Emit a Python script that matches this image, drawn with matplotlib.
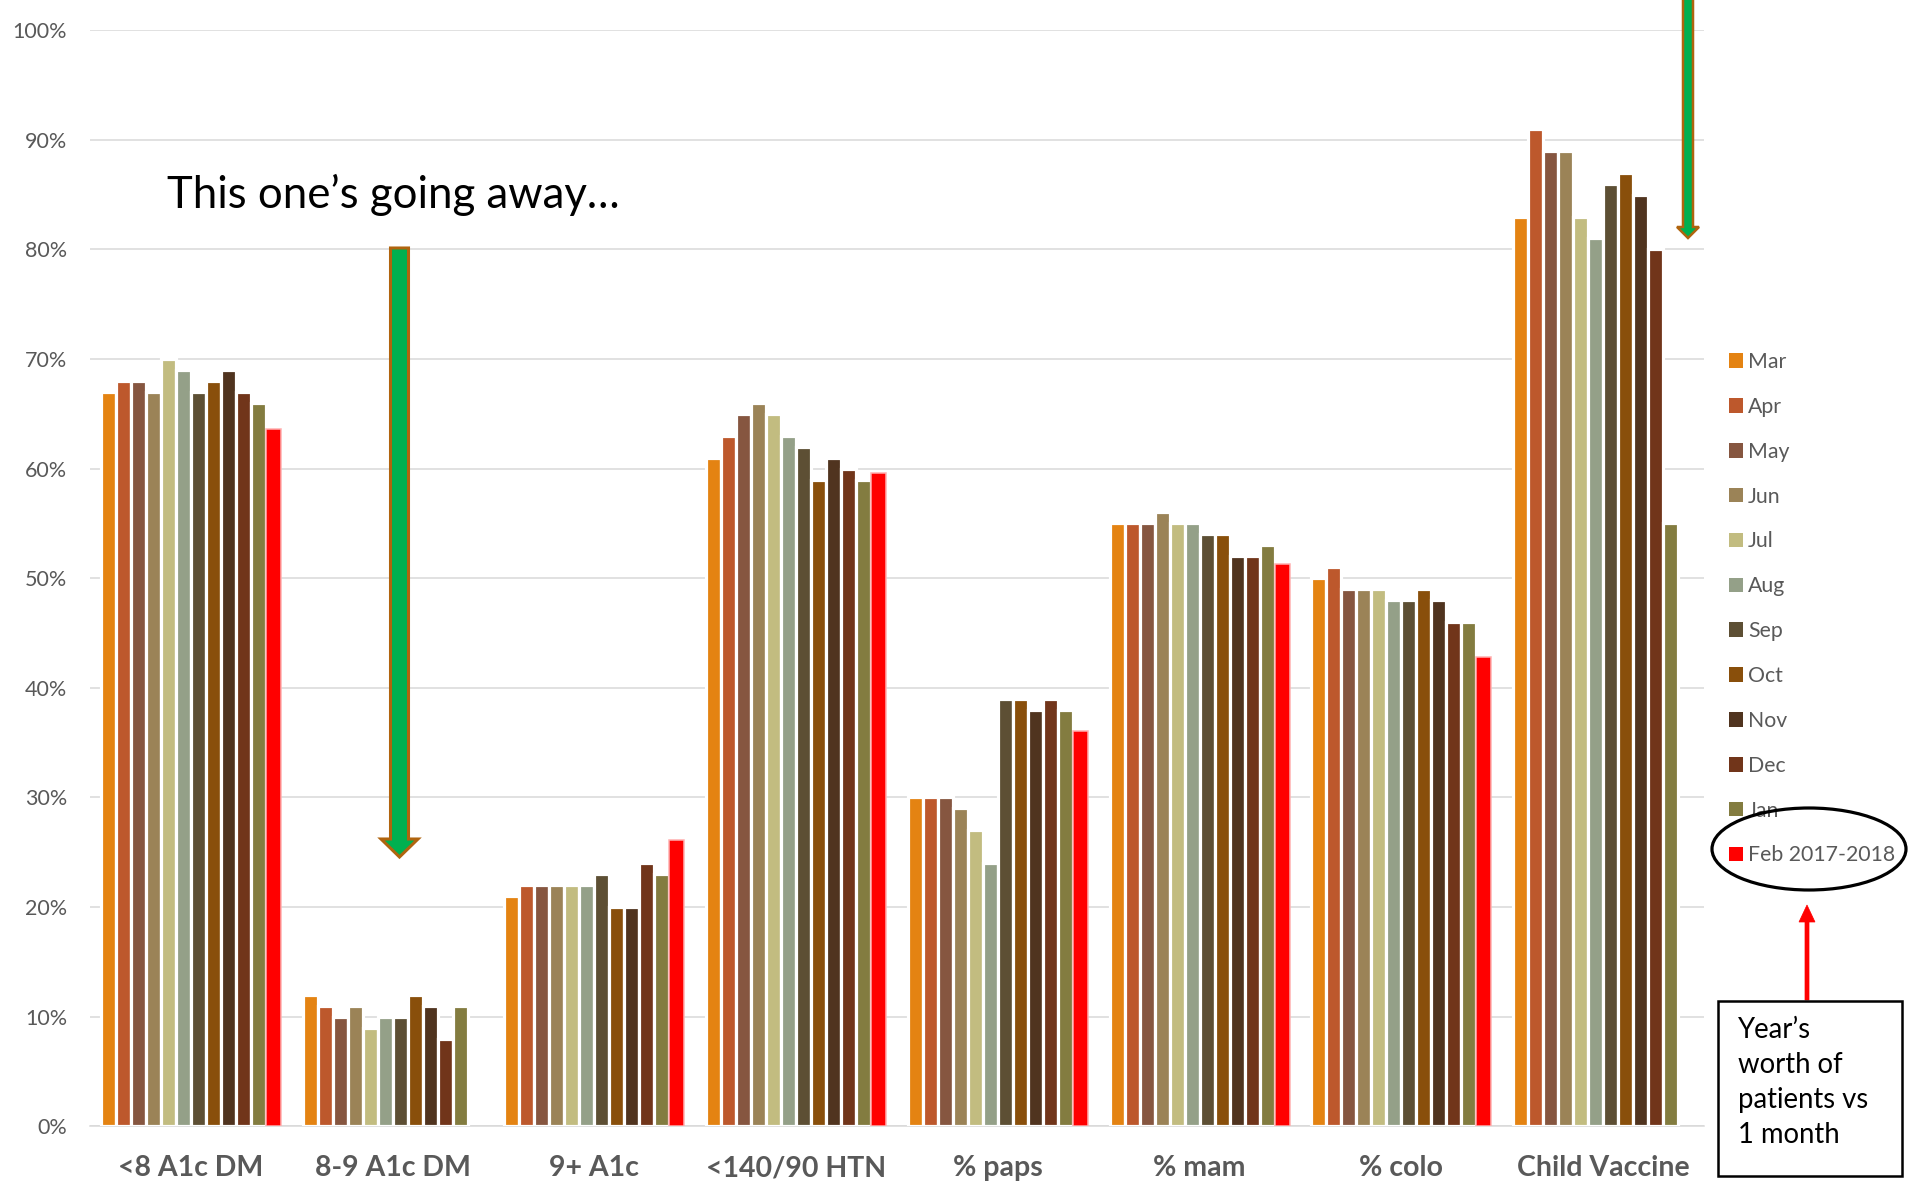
import numpy as np
import matplotlib
matplotlib.use("Agg")
import matplotlib.pyplot as plt
from matplotlib.patches import Polygon, Ellipse, Rectangle, Patch

plt.rcParams['font.family'] = ['Lato', 'DejaVu Sans']

categories = ["<8 A1c DM", "8-9 A1c DM", "9+ A1c", "<140/90 HTN", "% paps", "% mam", "% colo", "Child Vaccine"]
months = ["Mar", "Apr", "May", "Jun", "Jul", "Aug", "Sep", "Oct", "Nov", "Dec", "Jan", "Feb 2017-2018"]

mar = [67, 12, 21, 61, 30, 55, 50, 83]
apr = [68, 11, 22, 63, 30, 55, 51, 91]
may = [68, 10, 22, 65, 30, 55, 49, 89]
jun = [67, 11, 22, 66, 29, 56, 49, 89]
jul = [70, 9, 22, 65, 27, 55, 49, 83]
aug = [69, 10, 22, 63, 24, 55, 48, 81]
sep = [67, 10, 23, 62, 39, 54, 48, 86]
oct_ = [68, 12, 20, 59, 39, 54, 49, 87]
nov = [69, 11, 20, 61, 38, 52, 48, 85]
dec = [67, 8, 24, 60, 39, 52, 46, 80]
jan = [66, 11, 23, 59, 38, 53, 46, 55]
feb = [63.6, np.nan, 26.1, 59.6, 36.1, 51.3, 42.8, np.nan]

series = [mar, apr, may, jun, jul, aug, sep, oct_, nov, dec, jan, feb]
colors = ["#E48312", "#BD582C", "#865640", "#9B8357", "#C2BC80", "#94A088",
          "#5D4F34", "#894F0B", "#50341F", "#71351A", "#837C40", "#FF0000"]

W, H = 1911, 1189
fig = plt.figure(figsize=(W / 100, H / 100), dpi=100)

def fx(px):
    return px / W

def fy(py):
    return 1 - py / H

ax = fig.add_axes([fx(90), fy(1126.2), (1704 - 90) / W, (1126.2 - 30.2) / H])
ax.set_xlim(-0.5, 7.5)
ax.set_ylim(0, 1.0)

x = np.arange(len(categories))
bw = 15 / 201.75
handles = []
for i, (vals, c) in enumerate(zip(series, colors)):
    v = np.array(vals, dtype=float) / 100.0
    if i == 11:
        ax.bar(x + (i - 5.5) * bw, v, width=bw, color=c, edgecolor="#FFB0B0",
               linewidth=1.1, zorder=3)
    else:
        ax.bar(x + (i - 5.5) * bw, v, width=bw, color=c, edgecolor="white",
               linewidth=2.3, zorder=3)
    handles.append(Patch(facecolor=c, edgecolor='none'))

ticks = np.arange(0, 1.01, 0.1)
ax.set_yticks(ticks)
ax.set_yticklabels([f"{int(round(t * 100))}%" for t in ticks])
ax.yaxis.grid(True, color="#D9D9D9", linewidth=1.1, zorder=0)
ax.set_axisbelow(True)
for s in ["top", "right", "left"]:
    ax.spines[s].set_visible(False)
ax.spines["bottom"].set_color("#D9D9D9")
ax.spines["bottom"].set_linewidth(1.1)
ax.set_xticks(x)
ax.set_xticklabels(categories, fontsize=20.5, fontweight="bold", color="#595959")
ax.tick_params(axis="x", length=0, pad=21)
ax.tick_params(axis="y", length=0, pad=16.5, labelsize=15.5, labelcolor="#595959")

leg = ax.legend(handles, months, loc="upper left",
                bbox_to_anchor=(fx(1729), fy(352)), bbox_transform=fig.transFigure,
                frameon=False, borderpad=0, borderaxespad=0,
                handlelength=0.67, handleheight=0.67, handletextpad=0.22,
                labelspacing=1.17, fontsize=15.3)
for t in leg.get_texts():
    t.set_color("#595959")

fig.text(fx(167), fy(208), "This one\u2019s going away\u2026", fontsize=31.5,
         color="black", va="baseline", ha="left")

def varrow(xc, y_top, y_tip, shaft_w, head_w, head_len, fc, ec, lw):
    yh = y_tip - head_len
    pts = [(xc - shaft_w / 2, y_top), (xc + shaft_w / 2, y_top),
           (xc + shaft_w / 2, yh), (xc + head_w / 2, yh), (xc, y_tip),
           (xc - head_w / 2, yh), (xc - shaft_w / 2, yh)]
    pts = [(fx(a), fy(b)) for a, b in pts]
    p = Polygon(pts, closed=True, facecolor=fc, edgecolor=ec, linewidth=lw,
                transform=fig.transFigure, zorder=10, joinstyle="miter")
    fig.add_artist(p)

varrow(399.5, 248, 857, 18, 37, 18, "#00B050", "#B0640E", 2.2)
varrow(1688, -10, 238, 10, 22, 11, "#00B050", "#B0640E", 1.8)

el = Ellipse((fx(1809), fy(849)), 194 / W, 82 / H, facecolor="none",
             edgecolor="black", linewidth=2.3, transform=fig.transFigure, zorder=11)
fig.add_artist(el)

yb, yt = 1000, 905
pts = [(1805, yb), (1809, yb), (1809, yt + 17), (1815, yt + 17), (1807, yt),
       (1799, yt + 17), (1805, yt + 17)]
fig.add_artist(Polygon([(fx(a), fy(b)) for a, b in pts], closed=True,
                       facecolor="#FF0000", edgecolor="#FF0000", linewidth=0.5,
                       transform=fig.transFigure, zorder=11))

fig.add_artist(Rectangle((fx(1718), fy(1176)), (1902 - 1718) / W, (1176 - 1001) / H,
                         facecolor="white", edgecolor="black", linewidth=1.8,
                         transform=fig.transFigure, zorder=11))
box_lines = ["Year\u2019s", "worth of", "patients vs", "1 month"]
for k, line in enumerate(box_lines):
    fig.text(fx(1738), fy(1038 + 35 * k), line, fontsize=19.8, color="black",
             va="baseline", ha="left", zorder=12)

fig.savefig("out.png", dpi=100)
